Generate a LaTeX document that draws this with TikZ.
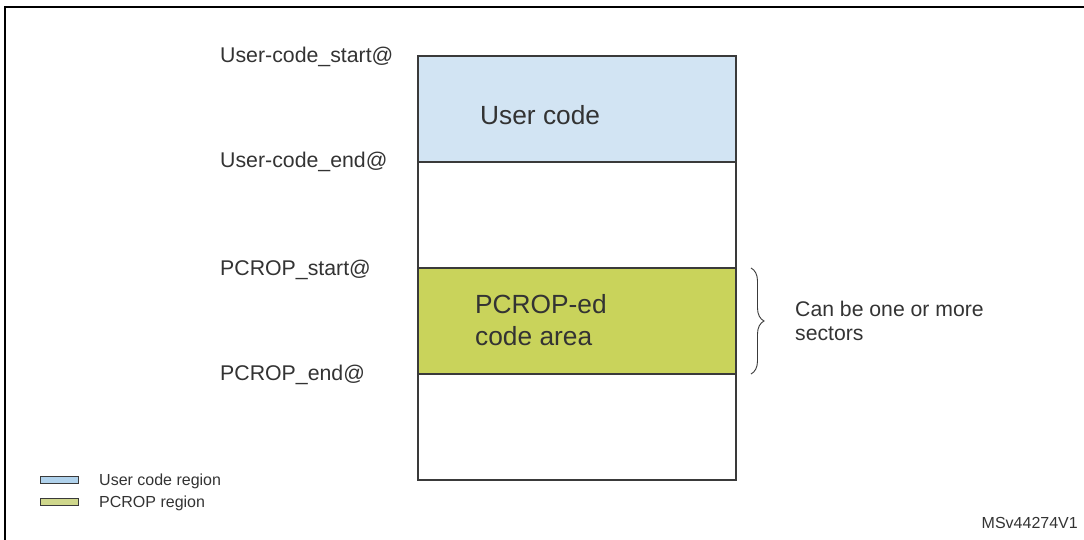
\documentclass[tikz,border=0pt]{standalone}
\usepackage{fontspec}
\setmainfont{Liberation Sans}
\usetikzlibrary{decorations.pathreplacing}
\definecolor{txt}{HTML}{333333}
\definecolor{edge}{HTML}{3A3A3A}
\definecolor{ucblue}{HTML}{D2E4F3}
\definecolor{pcgreen}{HTML}{C9D35B}
\definecolor{legblue}{HTML}{B0D2EC}
\definecolor{leggreen}{HTML}{CFD78C}
\begin{document}
\begin{tikzpicture}[x=1pt,y=-1pt,
  sect/.style={draw=edge,line width=1.6pt,minimum width=318pt,minimum height=106pt,inner sep=0pt,outer sep=0pt,anchor=north west},
  addr/.style={anchor=base west,inner sep=0pt,text=txt,font=\fontsize{21.3}{25}\selectfont},
  big/.style={anchor=base west,inner sep=0pt,text=txt,font=\fontsize{26.3}{31}\selectfont},
  note/.style={anchor=base west,inner sep=0pt,text=txt,font=\fontsize{21.2}{25}\selectfont},
  small/.style={anchor=base west,inner sep=0pt,text=txt,font=\fontsize{16}{19}\selectfont},
  legbox/.style={draw=edge,line width=1.3pt,minimum width=38pt,minimum height=7pt,inner sep=0pt,anchor=north west}]
\useasboundingbox (0,0) rectangle (1084,540);
% frame
\draw[line width=2.5pt,black] (5,540) -- (5,7) -- (1084,7);
% memory sections
\node[sect,fill=ucblue] (uc) at (418,56) {};
\node[sect,fill=white] (gap1) at (418,162) {};
\node[sect,fill=pcgreen] (pc) at (418,268) {};
\node[sect,fill=white] (gap2) at (418,374) {};
% texts in sections
\node[big] (uct) at (480,125) {User code};
\node[big] (pct1) at (475,313) {PCROP-ed};
\node[big] (pct2) at (475,345) {code area};
% address labels
\node[addr] (l1) at (220,63) {User-code\_start@};
\node[addr] (l2) at (220,168) {User-code\_end@};
\node[addr] (l3) at (220,275) {PCROP\_start@};
\node[addr] (l4) at (220,380) {PCROP\_end@};
% brace
\coordinate (bt) at (751,268);
\coordinate (bb) at (751,374);
\draw[draw=edge,line width=0.9pt,decorate,decoration={brace,amplitude=13pt}] (bt) -- (bb);
\node[note] (n1) at (795,316) {Can be one or more};
\node[note] (n2) at (795,340) {sectors};
% legend
\node[legbox,fill=legblue] (lg1) at (40,476) {};
\node[legbox,fill=leggreen] (lg2) at (40,498) {};
\node[small] (lt1) at (99,485) {User code region};
\node[small] (lt2) at (99,507) {PCROP region};
\node[small,anchor=base east] (id) at (1078,528) {MSv44274V1};
\end{tikzpicture}
\end{document}
